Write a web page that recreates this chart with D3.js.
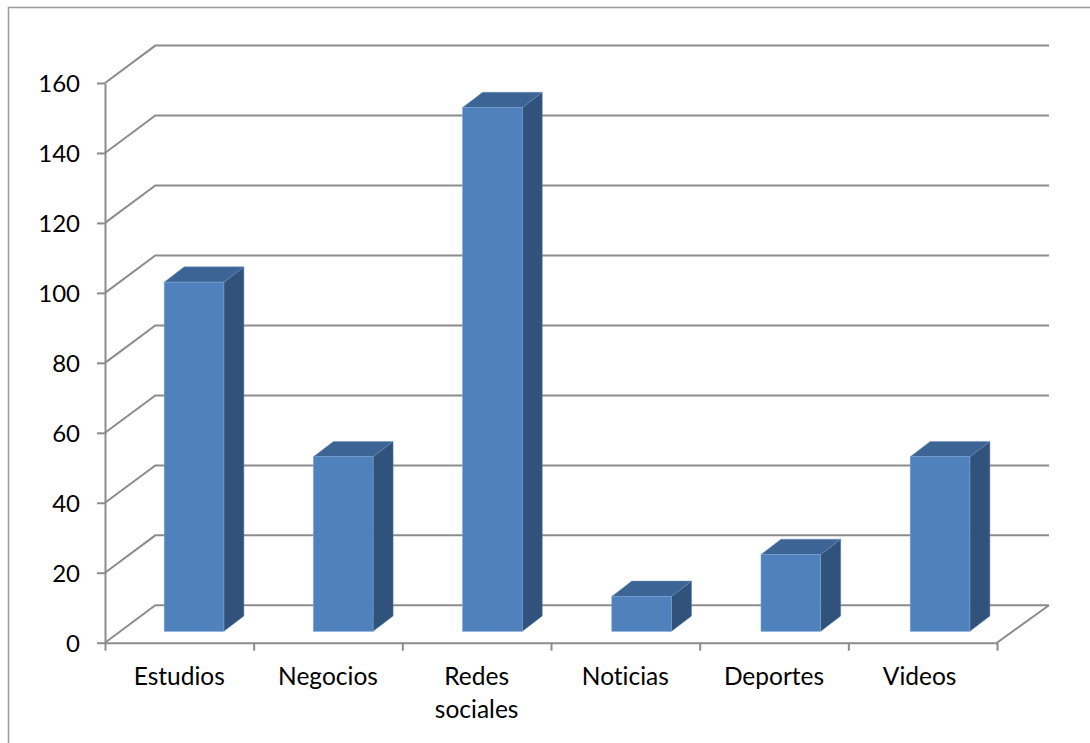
<!DOCTYPE html>
<html>
<head>
<meta charset="utf-8">
<script src="https://cdn.jsdelivr.net/npm/d3@7/dist/d3.min.js"></script>
<style>
  html, body { margin: 0; padding: 0; background: #fff; }
  svg { display: block; }
  text { font-family: Lato, "Open Sans", sans-serif; fill: #000; font-variant-ligatures: none; }
</style>
</head>
<body>
<svg id="chart" width="1090" height="743"></svg>
<script>
const categories = [["Estudios"], ["Negocios"], ["Redes", "sociales"], ["Noticias"], ["Deportes"], ["Videos"]];
const values = [100, 50, 150, 10, 22, 50];
const valueTicks = [0, 20, 40, 60, 80, 100, 120, 140, 160];

const svg = d3.select("#chart");
const W = 1090, H = 743;
const plot = { left: 105, right: 997, bottom: 642.7, top: 83 };
const wall = { left: 155.3, right: 1049, rise: 37.4 }; // back wall, offset from the front plane
const lineColor = "#8c8c8c";

// front plane scales: axis ticks sit on the category boundaries
const edge = d3.scaleLinear().domain([0, categories.length]).range([plot.left, plot.right]);
const y = d3.scaleLinear().domain([0, 160]).range([plot.bottom, plot.top]);

// bars stand further back on the floor, so they have scales of their own
const barX = d3.scaleBand().domain(d3.range(categories.length))
  .range([119.44, 1014.64]).paddingInner(0.6).paddingOuter(0.3);
const barBase = 631.3;
const barHeight = d3.scaleLinear().domain([0, 150]).range([0, 523.7]);
const barSide = { x: 20, y: 15.3 };

// outer frame of the chart area (open at the right and bottom)
svg.append("path")
  .attr("d", d3.line()([[8.5, H], [8.5, 7.5], [W, 7.5]]))
  .attr("fill", "none").attr("stroke", "#9a9a9a").attr("stroke-width", 1.5);

// floor and back-wall gridlines
const grid = svg.append("g").attr("fill", "none").attr("stroke", lineColor).attr("stroke-width", 2);
grid.selectAll("path.wall").data(valueTicks).join("path").attr("class", "wall")
  .attr("d", v => d3.line()([
    [plot.left, y(v)],
    [wall.left, y(v) - wall.rise],
    [wall.right, y(v) - wall.rise]
  ]));
grid.append("path")
  .attr("d", d3.line()([
    [plot.right, plot.bottom],
    [wall.right, plot.bottom - wall.rise]
  ]));

// value axis
const yAxis = svg.append("g")
  .attr("transform", `translate(${plot.left},0)`)
  .call(d3.axisLeft(y).tickValues(valueTicks).tickSize(8).tickPadding(17).tickSizeOuter(0));
yAxis.selectAll("text").attr("font-size", 24).attr("dy", "0.36em")
  .style("font-family", "Lato, 'Open Sans', sans-serif");

// category axis
const xAxis = svg.append("g")
  .attr("transform", `translate(0,${plot.bottom})`)
  .call(d3.axisBottom(edge).tickValues(d3.range(categories.length + 1)).tickSize(8).tickFormat("").tickSizeOuter(0));
[yAxis, xAxis].forEach(a => {
  a.selectAll("path.domain").attr("stroke", lineColor).attr("stroke-width", 2);
  a.selectAll("line").attr("stroke", lineColor).attr("stroke-width", 2);
});

// category labels, wrapped over several lines where needed
const labels = svg.append("g").attr("text-anchor", "middle").attr("font-size", 24.5);
categories.forEach((lines, i) => {
  const t = labels.append("text").attr("y", 685);
  lines.forEach((line, j) => {
    t.append("tspan")
      .attr("x", edge(i + 0.5) - (i === 5 ? 3 : 0))
      .attr("dy", j === 0 ? 0 : 33)
      .text(line);
  });
});

// bars as extruded boxes: side, top, then front face
svg.append("g").selectAll("g").data(values).join("g").each(function (v, i) {
  const g = d3.select(this);
  const x0 = barX(i);
  const x1 = x0 + barX.bandwidth();
  const yT = barBase - barHeight(v);
  g.append("path").attr("fill", "#31527b")
    .attr("stroke", "#5a7ea8").attr("stroke-width", 0.5)
    .attr("d", d3.line()([[x1, barBase], [x1 + barSide.x, barBase - barSide.y], [x1 + barSide.x, yT - barSide.y], [x1, yT]]) + "Z");
  g.append("path").attr("fill", "#3c6494")
    .attr("stroke", "#6d8fb8").attr("stroke-width", 0.5)
    .attr("d", d3.line()([[x0, yT], [x0 + barSide.x, yT - barSide.y], [x1 + barSide.x, yT - barSide.y], [x1, yT]]) + "Z");
  g.append("rect").attr("x", x0).attr("y", yT).attr("width", barX.bandwidth()).attr("height", barHeight(v))
    .attr("fill", "#4f81bd").attr("stroke", "#7ba3d3").attr("stroke-width", 0.6);
});
</script>
</body>
</html>
